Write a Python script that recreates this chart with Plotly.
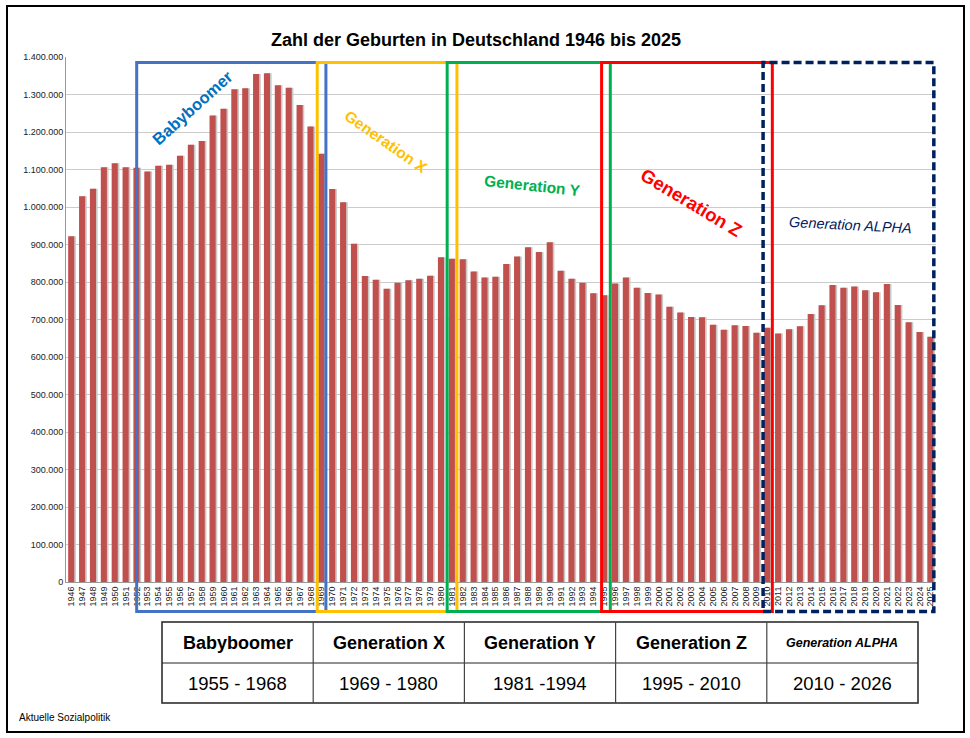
import plotly.graph_objects as go

# Geburten je Jahr
years = list(range(1946, 2026))
births = [922000, 1029000, 1049000, 1106000, 1117000, 1106000, 1105000, 1095000, 1110000, 1113000,
          1137000, 1166000, 1176000, 1244000, 1262000, 1314000, 1317000, 1355000, 1357000, 1325000,
          1318000, 1272000, 1215000, 1142000, 1048000, 1013000, 902000, 816000, 806000, 782000,
          798000, 805000, 809000, 817000, 866000, 862000, 861000, 828000, 812000, 814000,
          848000, 868000, 893000, 880000, 906000, 830000, 809000, 798000, 770000, 765000,
          796000, 812000, 785000, 771000, 767000, 734000, 719000, 707000, 706000, 686000,
          673000, 685000, 683000, 665000, 678000, 663000, 674000, 682000, 715000, 738000,
          792000, 785000, 788000, 778000, 773000, 795000, 739000, 693000, 667000, 654000]
year_labels = [str(y) for y in years]

gen_names = ["Babyboomer", "Generation X", "Generation Y", "Generation Z", "Generation ALPHA"]
gen_ranges = ["1955 - 1968", "1969 - 1980", "1981 -1994", "1995 - 2010", "2010 - 2026"]
gen_colors = ["#4472C4", "#FFC000", "#00B050", "#FF0000", "#002060"]
# Rahmen der Generationen auf der Jahresachse (links, rechts)
gen_spans = [(1952.0, 1969.4), (1968.6, 1981.45), (1980.55, 1995.55), (1994.75, 2010.45), (2009.6, 2025.3)]

W, H = 970, 738
L, R, T, B = 66, 936, 57, 582


def px(x):
    return (x - L) / (R - L)


def py(y):
    return (B - y) / (B - T)


def yr(v):
    return (v - 1945.5) / 80


FONT = "Arial, Liberation Sans, sans-serif"

fig = go.Figure()
# Schatten
fig.add_trace(go.Bar(x=years, y=births, width=0.55, offset=-0.14,
                     marker=dict(color="#c9c9c9", line=dict(width=0)), hoverinfo="skip"))
fig.add_trace(go.Bar(x=years, y=births, width=0.56, offset=-0.3,
                     marker=dict(color="#C0504D", line=dict(width=0))))

shapes = []
for (a, b), c in zip(gen_spans, gen_colors):
    shapes.append(dict(type="rect", xref="paper", yref="paper",
                       x0=yr(a), x1=yr(b), y0=py(611.5), y1=py(62.5),
                       line=dict(color=c, width=3.5 if c == "#002060" else 3,
                                 dash="8px,4px" if c == "#002060" else "solid")))

# Tabelle
tl, tr = 162, 918
cw = (tr - tl) / 5
ty0, ty1, ty2 = 622, 663, 703
shapes.append(dict(type="rect", xref="paper", yref="paper", x0=px(tl), x1=px(tr),
                   y0=py(ty2), y1=py(ty0), line=dict(color="#222", width=1.5)))
shapes.append(dict(type="line", xref="paper", yref="paper", x0=px(tl), x1=px(tr),
                   y0=py(ty1), y1=py(ty1), line=dict(color="#222", width=1.2)))
for i in range(1, 5):
    shapes.append(dict(type="line", xref="paper", yref="paper", x0=px(tl + i * cw), x1=px(tl + i * cw),
                       y0=py(ty2), y1=py(ty0), line=dict(color="#444", width=1.2)))

# äußerer Rahmen
shapes.append(dict(type="rect", xref="paper", yref="paper", x0=px(7), x1=px(964),
                   y0=py(732), y1=py(6), line=dict(color="black", width=2)))

annotations = []
for i, (n, r) in enumerate(zip(gen_names, gen_ranges)):
    cx = px(tl + (i + 0.5) * cw)
    if n == "Generation ALPHA":
        hf = dict(family=FONT, size=12.5, color="black")
        txt = "<b><i>" + n + "</i></b>"
    else:
        hf = dict(family=FONT, size=18, color="black")
        txt = "<b>" + n + "</b>"
    annotations.append(dict(x=cx, y=py((ty0 + ty1) / 2), xref="paper", yref="paper", text=txt,
                            showarrow=False, font=hf, xanchor="center", yanchor="middle"))
    annotations.append(dict(x=cx, y=py((ty1 + ty2) / 2), xref="paper", yref="paper", text=r,
                            showarrow=False, font=dict(family=FONT, size=18.5, color="black"),
                            xanchor="center", yanchor="middle"))

labels = [("<b>Babyboomer</b>", 192, 108, -42, 16.5, "#0070C0"),
          ("<b>Generation X</b>", 386, 141, 35, 15.5, "#FFC000"),
          ("<b>Generation Y</b>", 532, 185, 6, 15.5, "#00B050"),
          ("<b>Generation Z</b>", 691, 203, 31, 18.5, "#FF0000"),
          ("<i>Generation ALPHA</i>", 850, 225, 3, 14.5, "#002060")]
for t, x, y, ang, s, c in labels:
    annotations.append(dict(x=px(x), y=py(y), xref="paper", yref="paper", text=t, showarrow=False,
                            textangle=ang, font=dict(family=FONT, size=s, color=c),
                            xanchor="center", yanchor="middle"))

annotations.append(dict(x=px(476), y=py(40), xref="paper", yref="paper",
                        text="<b>Zahl der Geburten in Deutschland 1946 bis 2025</b>", showarrow=False,
                        font=dict(family=FONT, size=18, color="black"), xanchor="center", yanchor="middle"))
annotations.append(dict(x=px(17), y=py(717), xref="paper", yref="paper", text="Aktuelle Sozialpolitik",
                        showarrow=False, font=dict(family=FONT, size=10, color="black"),
                        xanchor="left", yanchor="middle"))

fig.update_layout(
    width=W, height=H, separators=",.",
    margin=dict(l=L, r=W - R, t=T, b=H - B),
    paper_bgcolor="white", plot_bgcolor="white",
    barmode="overlay", showlegend=False,
    font=dict(family=FONT, color="#222"),
    shapes=shapes, annotations=annotations,
    xaxis=dict(range=[1945.5, 2025.5], tickvals=years, ticktext=year_labels, tickangle=-90,
               tickfont=dict(size=9, color="#222"), showgrid=False, showline=True,
               linecolor="#999", linewidth=1, zeroline=False, ticks="", fixedrange=True),
    yaxis=dict(range=[0, 1400000], dtick=100000, tickformat=",d", tickfont=dict(size=9, color="#222"),
               showgrid=True, gridcolor="#cccccc", gridwidth=1, showline=True, linecolor="#999",
               linewidth=1, zeroline=False, ticks="", fixedrange=True),
)

# Seitenrand entfernen, damit die Grafik bei 0,0 beginnt
fig.write_html("out.html", config={"displayModeBar": False},
               post_script="document.body.style.margin='0';")
